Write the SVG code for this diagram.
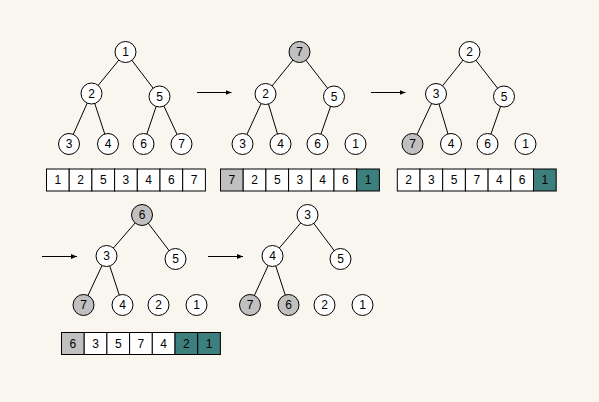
<svg xmlns="http://www.w3.org/2000/svg" width="599" height="402" viewBox="0 0 599 402">
<defs>
<marker id="ah" markerWidth="6" markerHeight="5" refX="6" refY="2.5" orient="auto" markerUnits="userSpaceOnUse"><path d="M0,0 L6,2.5 L0,5 Z" fill="#000"/></marker>
<style>
.e{stroke:#000;stroke-width:1;fill:none}
.a{stroke:#000;stroke-width:1;fill:none;marker-end:url(#ah)}
.n{fill:#fff;stroke:#000;stroke-width:1}
.g{fill:#c0c0c0;stroke:#000;stroke-width:1}
.c{fill:#fff;stroke:#000;stroke-width:1}
.cg{fill:#c0c0c0;stroke:#000;stroke-width:1}
.ct{fill:#3d7f7c;stroke:#000;stroke-width:1}
text{font-family:"Liberation Sans",Arial,sans-serif;font-size:12px;fill:#000;text-anchor:middle;dominant-baseline:central}
</style>
</defs>
<rect width="599" height="402" fill="#f9f6f0"/>
<g id="connectors">
<line class="e" x1="125.5" y1="52" x2="91.5" y2="93.5"/>
<line class="e" x1="125.5" y1="52" x2="159.5" y2="96.5"/>
<line class="e" x1="91.5" y1="93.5" x2="69" y2="144"/>
<line class="e" x1="91.5" y1="93.5" x2="108" y2="144"/>
<line class="e" x1="159.5" y1="96.5" x2="143.5" y2="144"/>
<line class="e" x1="159.5" y1="96.5" x2="181.5" y2="144"/>
<line class="e" x1="299.5" y1="52" x2="265.5" y2="94"/>
<line class="e" x1="299.5" y1="52" x2="334" y2="96.5"/>
<line class="e" x1="265.5" y1="94" x2="242.5" y2="144"/>
<line class="e" x1="265.5" y1="94" x2="280.5" y2="144"/>
<line class="e" x1="334" y1="96.5" x2="317.5" y2="144"/>
<line class="e" x1="469.5" y1="52" x2="436" y2="94"/>
<line class="e" x1="469.5" y1="52" x2="504" y2="96.5"/>
<line class="e" x1="436" y1="94" x2="412.5" y2="144"/>
<line class="e" x1="436" y1="94" x2="451" y2="144"/>
<line class="e" x1="504" y1="96.5" x2="487.5" y2="144"/>
<line class="e" x1="142" y1="215" x2="106.5" y2="256"/>
<line class="e" x1="142" y1="215" x2="175.5" y2="259"/>
<line class="e" x1="106.5" y1="256" x2="83.5" y2="305"/>
<line class="e" x1="106.5" y1="256" x2="122.5" y2="305"/>
<line class="e" x1="307.5" y1="215" x2="272.5" y2="256"/>
<line class="e" x1="307.5" y1="215" x2="340.5" y2="259"/>
<line class="e" x1="272.5" y1="256" x2="250" y2="305"/>
<line class="e" x1="272.5" y1="256" x2="288.5" y2="305"/>
<line class="a" x1="197" y1="92.5" x2="231.5" y2="92.5"/>
<line class="a" x1="371" y1="92.5" x2="405.5" y2="92.5"/>
<line class="a" x1="42" y1="256.5" x2="77" y2="256.5"/>
<line class="a" x1="208" y1="256.5" x2="243" y2="256.5"/>
</g>
<g id="tree1">
<g id="t1n1"><circle class="n" cx="125.5" cy="52" r="10.5"/><text x="125.5" y="52">1</text></g>
<g id="t1n2"><circle class="n" cx="91.5" cy="93.5" r="10.5"/><text x="91.5" y="93.5">2</text></g>
<g id="t1n5"><circle class="n" cx="159.5" cy="96.5" r="10.5"/><text x="159.5" y="96.5">5</text></g>
<g id="t1n3"><circle class="n" cx="69" cy="144" r="10.5"/><text x="69" y="144">3</text></g>
<g id="t1n4"><circle class="n" cx="108" cy="144" r="10.5"/><text x="108" y="144">4</text></g>
<g id="t1n6"><circle class="n" cx="143.5" cy="144" r="10.5"/><text x="143.5" y="144">6</text></g>
<g id="t1n7"><circle class="n" cx="181.5" cy="144" r="10.5"/><text x="181.5" y="144">7</text></g>
</g>
<g id="tree2">
<g id="t2n7"><circle class="g" cx="299.5" cy="52" r="10.5"/><text x="299.5" y="52">7</text></g>
<g id="t2n2"><circle class="n" cx="265.5" cy="94" r="10.5"/><text x="265.5" y="94">2</text></g>
<g id="t2n5"><circle class="n" cx="334" cy="96.5" r="10.5"/><text x="334" y="96.5">5</text></g>
<g id="t2n3"><circle class="n" cx="242.5" cy="144" r="10.5"/><text x="242.5" y="144">3</text></g>
<g id="t2n4"><circle class="n" cx="280.5" cy="144" r="10.5"/><text x="280.5" y="144">4</text></g>
<g id="t2n6"><circle class="n" cx="317.5" cy="144" r="10.5"/><text x="317.5" y="144">6</text></g>
<g id="t2n1"><circle class="n" cx="355.5" cy="144" r="10.5"/><text x="355.5" y="144">1</text></g>
</g>
<g id="tree3">
<g id="t3n2"><circle class="n" cx="469.5" cy="52" r="10.5"/><text x="469.5" y="52">2</text></g>
<g id="t3n3"><circle class="n" cx="436" cy="94" r="10.5"/><text x="436" y="94">3</text></g>
<g id="t3n5"><circle class="n" cx="504" cy="96.5" r="10.5"/><text x="504" y="96.5">5</text></g>
<g id="t3n7"><circle class="g" cx="412.5" cy="144" r="10.5"/><text x="412.5" y="144">7</text></g>
<g id="t3n4"><circle class="n" cx="451" cy="144" r="10.5"/><text x="451" y="144">4</text></g>
<g id="t3n6"><circle class="n" cx="487.5" cy="144" r="10.5"/><text x="487.5" y="144">6</text></g>
<g id="t3n1"><circle class="n" cx="525.5" cy="144" r="10.5"/><text x="525.5" y="144">1</text></g>
</g>
<g id="tree4">
<g id="t4n6"><circle class="g" cx="142" cy="215" r="10.5"/><text x="142" y="215">6</text></g>
<g id="t4n3"><circle class="n" cx="106.5" cy="256" r="10.5"/><text x="106.5" y="256">3</text></g>
<g id="t4n5"><circle class="n" cx="175.5" cy="259" r="10.5"/><text x="175.5" y="259">5</text></g>
<g id="t4n7"><circle class="g" cx="83.5" cy="305" r="10.5"/><text x="83.5" y="305">7</text></g>
<g id="t4n4"><circle class="n" cx="122.5" cy="305" r="10.5"/><text x="122.5" y="305">4</text></g>
<g id="t4n2"><circle class="n" cx="158.5" cy="305" r="10.5"/><text x="158.5" y="305">2</text></g>
<g id="t4n1"><circle class="n" cx="196.5" cy="305" r="10.5"/><text x="196.5" y="305">1</text></g>
</g>
<g id="tree5">
<g id="t5n3"><circle class="n" cx="307.5" cy="215" r="10.5"/><text x="307.5" y="215">3</text></g>
<g id="t5n4"><circle class="n" cx="272.5" cy="256" r="10.5"/><text x="272.5" y="256">4</text></g>
<g id="t5n5"><circle class="n" cx="340.5" cy="259" r="10.5"/><text x="340.5" y="259">5</text></g>
<g id="t5n7"><circle class="g" cx="250" cy="305" r="10.5"/><text x="250" y="305">7</text></g>
<g id="t5n6"><circle class="g" cx="288.5" cy="305" r="10.5"/><text x="288.5" y="305">6</text></g>
<g id="t5n2"><circle class="n" cx="324.5" cy="305" r="10.5"/><text x="324.5" y="305">2</text></g>
<g id="t5n1"><circle class="n" cx="362.5" cy="305" r="10.5"/><text x="362.5" y="305">1</text></g>
</g>
<g id="array1">
<rect class="c" x="46.5" y="169" width="22.7" height="22"/><text x="57.85" y="180">1</text>
<rect class="c" x="69.2" y="169" width="22.7" height="22"/><text x="80.55" y="180">2</text>
<rect class="c" x="91.9" y="169" width="22.7" height="22"/><text x="103.25" y="180">5</text>
<rect class="c" x="114.6" y="169" width="22.7" height="22"/><text x="125.95" y="180">3</text>
<rect class="c" x="137.3" y="169" width="22.7" height="22"/><text x="148.65" y="180">4</text>
<rect class="c" x="160" y="169" width="22.7" height="22"/><text x="171.35" y="180">6</text>
<rect class="c" x="182.7" y="169" width="22.7" height="22"/><text x="194.05" y="180">7</text>
</g>
<g id="array2">
<rect class="cg" x="220.5" y="169" width="22.7" height="22"/><text x="231.85" y="180">7</text>
<rect class="c" x="243.2" y="169" width="22.7" height="22"/><text x="254.55" y="180">2</text>
<rect class="c" x="265.9" y="169" width="22.7" height="22"/><text x="277.25" y="180">5</text>
<rect class="c" x="288.6" y="169" width="22.7" height="22"/><text x="299.95" y="180">3</text>
<rect class="c" x="311.3" y="169" width="22.7" height="22"/><text x="322.65" y="180">4</text>
<rect class="c" x="334" y="169" width="22.7" height="22"/><text x="345.35" y="180">6</text>
<rect class="ct" x="356.7" y="169" width="22.7" height="22"/><text x="368.05" y="180">1</text>
</g>
<g id="array3">
<rect class="c" x="397.3" y="169" width="22.7" height="22"/><text x="408.65" y="180">2</text>
<rect class="c" x="420" y="169" width="22.7" height="22"/><text x="431.35" y="180">3</text>
<rect class="c" x="442.7" y="169" width="22.7" height="22"/><text x="454.05" y="180">5</text>
<rect class="c" x="465.4" y="169" width="22.7" height="22"/><text x="476.75" y="180">7</text>
<rect class="c" x="488.1" y="169" width="22.7" height="22"/><text x="499.45" y="180">4</text>
<rect class="c" x="510.8" y="169" width="22.7" height="22"/><text x="522.15" y="180">6</text>
<rect class="ct" x="533.5" y="169" width="22.7" height="22"/><text x="544.85" y="180">1</text>
</g>
<g id="array4">
<rect class="cg" x="61.5" y="332.5" width="22.7" height="22"/><text x="72.85" y="343.5">6</text>
<rect class="c" x="84.2" y="332.5" width="22.7" height="22"/><text x="95.55" y="343.5">3</text>
<rect class="c" x="106.9" y="332.5" width="22.7" height="22"/><text x="118.25" y="343.5">5</text>
<rect class="c" x="129.6" y="332.5" width="22.7" height="22"/><text x="140.95" y="343.5">7</text>
<rect class="c" x="152.3" y="332.5" width="22.7" height="22"/><text x="163.65" y="343.5">4</text>
<rect class="ct" x="175" y="332.5" width="22.7" height="22"/><text x="186.35" y="343.5">2</text>
<rect class="ct" x="197.7" y="332.5" width="22.7" height="22"/><text x="209.05" y="343.5">1</text>
</g>
</svg>
